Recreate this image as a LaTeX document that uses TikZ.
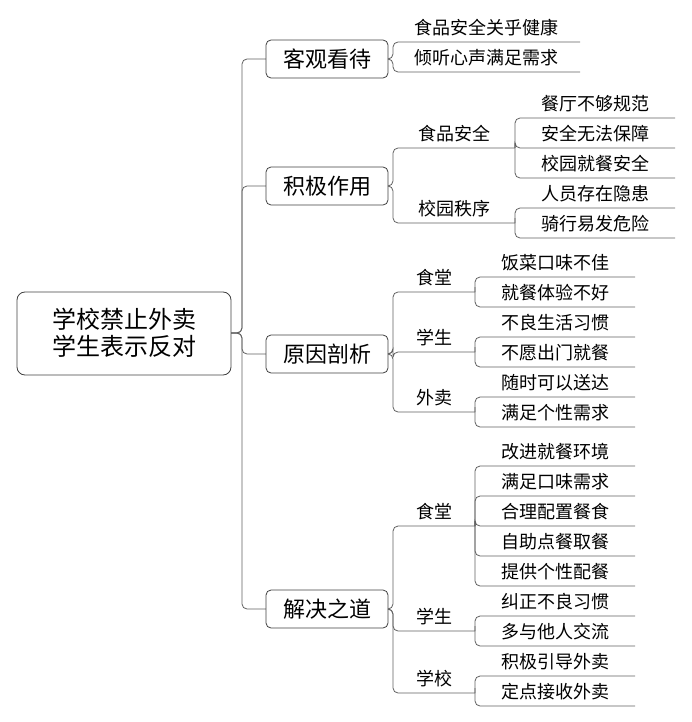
\documentclass[tikz,border=0pt]{standalone}
\usepackage{fontspec}
\newfontfamily\cjk{Noto Sans CJK SC}
\tikzset{
  ln/.style={draw=gray!75!black, line width=0.8pt, rounded corners=5pt},
  bx/.style={draw=black!75, line width=0.8pt, rounded corners=5pt},
  lf/.style={font=\cjk\fontsize{18}{20}\selectfont, inner sep=0pt}
}
% \kid{startx}{starty}{vx}{endx}{cy}{text}
\newcommand\kid[6]{%
  \draw[ln] (#1,#2) -- (#3,#2) -- (#3,#5) -- (#4,#5);
  \node[lf] at ({(#3+#4)/2},{#5-14}) {#6};
}
\begin{document}
\begin{tikzpicture}[x=1pt,y=-1pt]
\useasboundingbox (0,0) rectangle (691,722);
% root
\draw[bx,rounded corners=8pt] (17,292) rectangle (231,375);
\node[font=\cjk\fontsize{24}{27}\selectfont, align=center] (root) at (124,333) {学校禁止外卖\\学生表示反对};
% spine
\foreach \y in {59,186,354,609}
  \draw[ln] (231,333) -- (242,333) -- (242,\y) -- (266,\y);
% branch boxes
\foreach \y/\t in {59/客观看待,186/积极作用,354/原因剖析,609/解决之道}{
  \draw[bx,fill=white] (266,\y-19) rectangle (388,\y+19);
  \node[font=\cjk\fontsize{22}{24}\selectfont] at (327,\y) {\t};
}
% 客观看待
\kid{388}{59}{393}{580}{42}{食品安全关乎健康}
\kid{388}{59}{393}{580}{72}{倾听心声满足需求}
% 积极作用
\kid{388}{186}{393}{515}{148}{食品安全}
\kid{388}{186}{393}{515}{223}{校园秩序}
\kid{515}{148}{515}{675}{118}{餐厅不够规范}
\kid{515}{148}{515}{675}{148}{安全无法保障}
\kid{515}{148}{515}{675}{178}{校园就餐安全}
\kid{515}{223}{515}{675}{208}{人员存在隐患}
\kid{515}{223}{515}{675}{238}{骑行易发危险}
% 原因剖析
\kid{388}{354}{393}{475}{292}{食堂}
\kid{388}{354}{393}{475}{352}{学生}
\kid{388}{354}{393}{475}{412}{外卖}
\kid{475}{292}{475}{635}{277}{饭菜口味不佳}
\kid{475}{292}{475}{635}{307}{就餐体验不好}
\kid{475}{352}{475}{635}{337}{不良生活习惯}
\kid{475}{352}{475}{635}{367}{不愿出门就餐}
\kid{475}{412}{475}{635}{397}{随时可以送达}
\kid{475}{412}{475}{635}{427}{满足个性需求}
% 解决之道
\kid{388}{609}{393}{475}{526}{食堂}
\kid{388}{609}{393}{475}{631}{学生}
\kid{388}{609}{393}{475}{693}{学校}
\kid{475}{526}{475}{635}{466}{改进就餐环境}
\kid{475}{526}{475}{635}{496}{满足口味需求}
\kid{475}{526}{475}{635}{526}{合理配置餐食}
\kid{475}{526}{475}{635}{556}{自助点餐取餐}
\kid{475}{526}{475}{635}{586}{提供个性配餐}
\kid{475}{631}{475}{635}{616}{纠正不良习惯}
\kid{475}{631}{475}{635}{646}{多与他人交流}
\kid{475}{693}{475}{635}{676}{积极引导外卖}
\kid{475}{693}{475}{635}{706}{定点接收外卖}
\end{tikzpicture}
\end{document}
